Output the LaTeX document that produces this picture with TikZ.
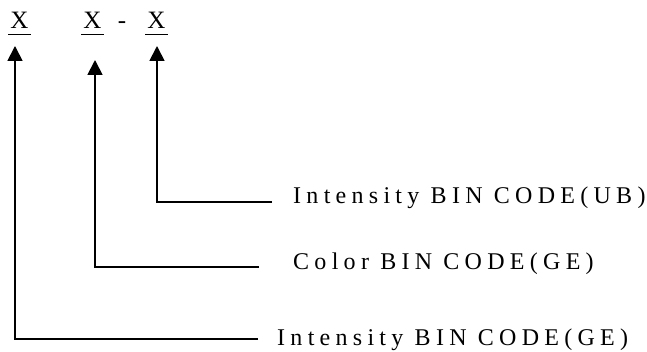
\documentclass[tikz,border=0pt]{standalone}
\usepackage{fontspec}
\setmainfont{Liberation Serif}
\usetikzlibrary{arrows.meta}
\begin{document}
\begin{tikzpicture}[x=1pt,y=-1pt,
  lbl/.style={anchor=base west,inner sep=0pt,font=\fontsize{24}{28}\selectfont\addfontfeature{LetterSpace=22}},
  xch/.style={anchor=base,inner sep=0pt,font=\fontsize{25}{28}\selectfont},
  uline/.style={line width=1.8pt},
  conn/.style={line width=1.8pt,-{Triangle[length=15pt,width=15pt]}}]
\useasboundingbox (0,0) rectangle (647,352);
% X marks
\node[xch] (x1) at (19.5,29) {X};
\node[xch] (x2) at (92.5,29) {X};
\node[xch] (dash) at (122,29) {-};
\node[xch] (x3) at (156.5,29) {X};
\draw[uline] (8,34.5) -- (31,34.5);
\draw[uline] (81,34.5) -- (104,34.5);
\draw[uline] (145,34.5) -- (168,34.5);
% arrow tips
\coordinate (t1) at (15,46);
\coordinate (t2) at (95,60);
\coordinate (t3) at (157,46);
% labels
\node[lbl] (l1) at (293,204) {Intensity BIN CODE(UB)};
\node[lbl] (l2) at (293,270) {Color BIN CODE(GE)};
\node[lbl] (l3) at (277,345) {Intensity BIN CODE(GE)};
\coordinate (e1) at (272,202);
\coordinate (e2) at (259,267);
\coordinate (e3) at (258,339);
\draw[conn] (e1) -| (t3);
\draw[conn] (e2) -| (t2);
\draw[conn] (e3) -| (t1);
\end{tikzpicture}
\end{document}
